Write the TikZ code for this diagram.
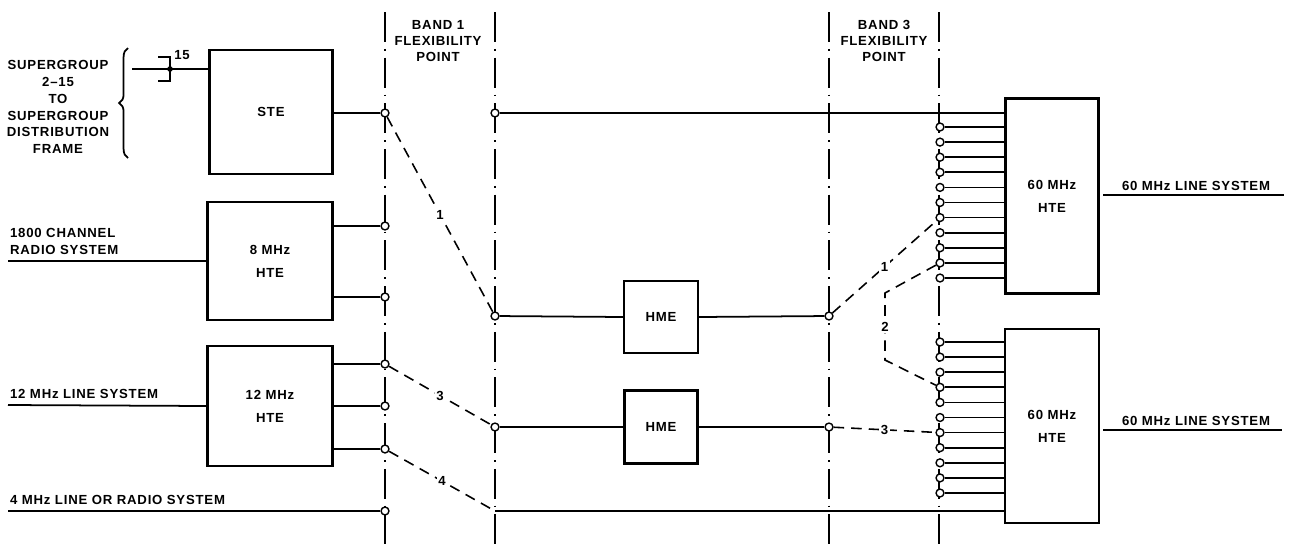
\documentclass[tikz,border=0pt]{standalone}
\usepackage{fontspec}
\setmainfont[LetterSpace=6]{Liberation Sans}
\usepackage{tikz}
\usetikzlibrary{positioning, decorations.pathreplacing}

\begin{document}
\begin{tikzpicture}[x=0.02cm,y=-0.02cm]
	\tikzstyle{unit}=[draw=black,line width=1.3pt,inner sep=0pt,align=center,font=\bfseries\fontsize{7.5}{13}\selectfont]
	\tikzstyle{term}=[circle,draw=black,fill=white,line width=0.8pt,inner sep=0pt,minimum size=4.5pt]
	\tikzstyle{flex}=[line width=1.6pt,dash pattern=on 17pt off 4pt on 1pt off 4pt]
	\tikzstyle{patch}=[line width=0.9pt,dash pattern=on 6pt off 4pt]
	\tikzstyle{wire}=[line width=1pt]
	\tikzstyle{lab}=[font=\bfseries\fontsize{7.5}{10}\selectfont,inner sep=1pt]
	\tikzstyle{num}=[font=\bfseries\fontsize{7.5}{10}\selectfont,inner sep=1pt,fill=white]
	\useasboundingbox (0,0) rectangle (1292,549);

	% flexibility points
	\foreach \x in {385,495,829,939}
		\draw[flex] (\x,12) -- (\x,549);
	\node[lab,align=center] (band1) at (438,41) {BAND 1\\[-1pt]FLEXIBILITY\\[-1pt]POINT};
	\node[lab,align=center] (band3) at (884,41) {BAND 3\\[-1pt]FLEXIBILITY\\[-1pt]POINT};

	% equipment
	\node[unit,minimum width=2.46cm,minimum height=2.48cm] (ste) at (271,112) {STE};
	\node[unit,minimum width=2.5cm,minimum height=2.36cm] (hte8) at (270,261) {8 MHz\\HTE};
	\node[unit,minimum width=2.5cm,minimum height=2.4cm] (hte12) at (270,406) {12 MHz\\HTE};
	\node[unit,minimum width=1.48cm,minimum height=1.44cm] (hmeA) at (661,317) {HME};
	\node[unit,minimum width=1.46cm,minimum height=1.46cm] (hmeB) at (661,427) {HME};
	\node[unit,minimum width=1.86cm,minimum height=3.9cm] (hteA) at (1052,196) {60 MHz\\HTE};
	\node[unit,minimum width=1.88cm,minimum height=3.88cm] (hteB) at (1052,426) {60 MHz\\HTE};

	% terminals
	\node[term] (s1) at (385,113) {};
	\node[term] (r1) at (385,226) {};
	\node[term] (r2) at (385,297) {};
	\node[term] (t1) at (385,364) {};
	\node[term] (t2) at (385,406) {};
	\node[term] (t3) at (385,449) {};
	\node[term] (f1) at (385,511) {};
	\node[term] (p0) at (495,113) {};
	\node[term] (p1) at (495,316) {};
	\node[term] (p2) at (495,427) {};
	\coordinate (p3) at (495,511);
	\node[term] (q1) at (829,316) {};
	\node[term] (q2) at (829,427) {};
	\foreach \i in {1,...,11} {
		\node[term] (a\i) at (940,{127+15.1*(\i-1)}) {};
		\node[term] (b\i) at (940,{342+15.1*(\i-1)}) {};
		\draw[wire] (a\i) -- (a\i -| hteA.west);
		\draw[wire] (b\i) -- (b\i -| hteB.west);
	}

	% supergroups
	\coordinate (sg) at (132,69);
	\draw[wire] (sg) -- (sg -| ste.west);
	\draw[wire] (158,57) -- (170,57) -- (170,81) -- (158,81);
	\fill (170,69) circle (1.6pt);
	\node[lab] (n15) at (182,55) {15};
	\draw[line width=1pt,decorate,decoration={brace,amplitude=5pt}] (128,158) -- (128,48);
	\node[lab,align=center,font=\bfseries\fontsize{7.5}{9.6}\selectfont] (sgtext) at (58,107) {SUPERGROUP\\2--15\\TO\\SUPERGROUP\\DISTRIBUTION\\FRAME};

	% incoming systems
	\coordinate (in8) at (8,261);
	\coordinate (in12) at (8,405);
	\coordinate (in4) at (8,511);
	\draw[wire] (in8) -- (hte8.west);
	\draw[wire] (in12) -- (hte12.west);
	\draw[wire] (in4) -- (f1);
	\node[lab,align=left,anchor=south west,font=\bfseries\fontsize{7.5}{10}\selectfont] (radio) at (8,257) {1800 CHANNEL\\RADIO SYSTEM};
	\node[lab,anchor=south west] (line12) at (8,401) {12 MHz LINE SYSTEM};
	\node[lab,anchor=south west] (line4) at (8,507) {4 MHz LINE OR RADIO SYSTEM};

	% fixed wiring
	\draw[wire] (ste.east |- s1) -- (s1);
	\draw[wire] (r1 -| hte8.east) -- (r1);
	\draw[wire] (r2 -| hte8.east) -- (r2);
	\draw[wire] (t1 -| hte12.east) -- (t1);
	\draw[wire] (t2 -| hte12.east) -- (t2);
	\draw[wire] (t3 -| hte12.east) -- (t3);
	\draw[wire] (p0) -- (p0 -| hteA.west);
	\draw[wire] (p3) -- (p3 -| hteB.west);
	\draw[wire] (p1) -- (hmeA.west);
	\draw[wire] (hmeA.east) -- (q1);
	\draw[wire] (p2) -- (hmeB.west);
	\draw[wire] (hmeB.east) -- (q2);

	% patching
	\coordinate (k1) at (885,293);
	\coordinate (k2) at (885,360);
	\draw[patch] (s1) -- node[num] {1} (p1);
	\draw[patch] (t1) -- node[num] {3} (p2);
	\draw[patch] (t3) -- node[num] {4} (p3);
	\draw[patch] (q1) -- node[num] {1} (a7);
	\draw[patch] (a10) -- (k1) -- node[num] {2} (k2) -- (b4);
	\draw[patch] (q2) -- node[num] {3} (b7);

	% outgoing systems
	\coordinate (outA) at (1103,195);
	\coordinate (outB) at (1103,430);
	\draw[wire] (outA) -- (1284,195);
	\draw[wire] (outB) -- (1282,430);
	\node[lab,anchor=south] (lineA) at (1196,193) {60 MHz LINE SYSTEM};
	\node[lab,anchor=south] (lineB) at (1196,428) {60 MHz LINE SYSTEM};
\end{tikzpicture}
\end{document}
